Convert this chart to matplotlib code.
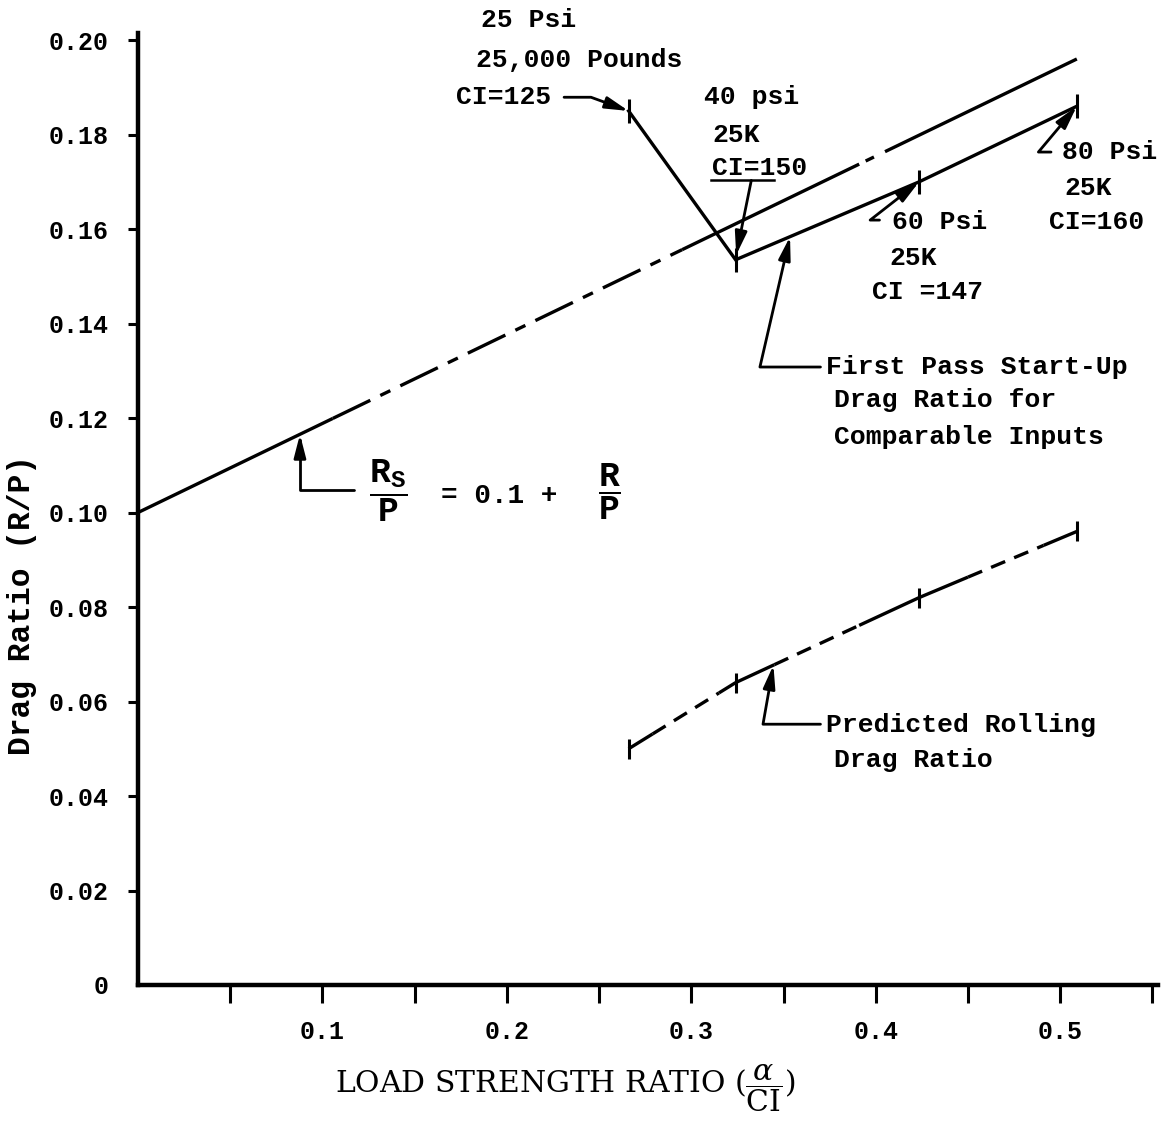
import numpy as np
import matplotlib
matplotlib.use("Agg")
import matplotlib.pyplot as plt

# ---- data -------------------------------------------------------------
# load strength ratio (alpha / CI) of the four test conditions
load_ratio = [0.266, 0.324, 0.4235, 0.509]
# first pass start-up drag ratio measured at those conditions
first_pass_drag = [0.185, 0.1535, 0.170, 0.186]
# predicted rolling drag ratio
rolling_drag = [0.050, 0.064, 0.082, 0.096]
# start-up relation R_S/P = 0.1 + R/P (end points of the straight line)
startup_x = [0.0, 0.509]
startup_y = [0.100, 0.196]

y_ticks = [0.0, 0.02, 0.04, 0.06, 0.08, 0.10, 0.12, 0.14, 0.16, 0.18, 0.20]
y_tick_labels = ["0", "0.02", "0.04", "0.06", "0.08", "0.10",
                 "0.12", "0.14", "0.16", "0.18", "0.20"]
x_ticks = [0.05, 0.10, 0.15, 0.20, 0.25, 0.30, 0.35, 0.40, 0.45, 0.50, 0.55]
x_tick_labels = ["", "0.1", "", "0.2", "", "0.3", "", "0.4", "", "0.5", ""]

# ---- style --------------------------------------------------------------
plt.rcParams["lines.scale_dashes"] = False
plt.rcParams["mathtext.fontset"] = "custom"
plt.rcParams["mathtext.rm"] = "Liberation Mono:bold"
plt.rcParams["mathtext.it"] = "Liberation Mono:bold"
plt.rcParams["mathtext.bf"] = "Liberation Mono:bold"

MONO = "Liberation Mono"
SERIF = "DejaVu Serif"
INK = "black"
LW = 2.4
TXT = 19

W, H = 1166, 1131
fig = plt.figure(figsize=(W / 100, H / 100), dpi=100)
ax = fig.add_axes([138 / W, 1 - 985 / H, 1020 / W, (985 - 33) / H])
ax.set_xlim(0, 0.553)
ax.set_ylim(0, 0.2015)

for s in ("top", "right"):
    ax.spines[s].set_visible(False)
for s in ("left", "bottom"):
    ax.spines[s].set_linewidth(3.2)

ax.set_yticks(y_ticks)
ax.set_yticklabels(y_tick_labels, fontfamily=MONO, fontsize=18,
                   fontweight="bold")
ax.set_xticks(x_ticks)
ax.set_xticklabels(x_tick_labels, fontfamily=MONO, fontsize=18,
                   fontweight="bold")
ax.tick_params(axis="y", direction="out", length=7, width=2.2, pad=14)
ax.tick_params(axis="x", direction="out", length=13, width=2.2, pad=12)
ax.yaxis.get_major_ticks()[0].tick1line.set_visible(False)


def spans(xs, ys, ranges, **kw):
    """Draw pieces of a polyline between the given x ranges."""
    for x0, x1 in ranges:
        sx = np.linspace(x0, x1, 30)
        ax.plot(sx, np.interp(sx, xs, ys), color=INK, lw=LW,
                solid_capstyle="butt", **kw)


# start-up line: solid in parts, dash-dot elsewhere
spans(startup_x, startup_y,
      [(0.0, 0.1056), (0.295, 0.391), (0.3945, 0.399), (0.405, 0.509)])
spans(startup_x, startup_y, [(0.1056, 0.295)], dashes=(30, 8, 8, 8))

# first pass start-up drag ratio
ax.plot(load_ratio, first_pass_drag, color=INK, lw=LW,
        solid_joinstyle="miter")
ax.plot(load_ratio, first_pass_drag, ls="none", marker="|",
        ms=17, mew=2.2, color=INK)

# predicted rolling drag ratio: mixed solid / dashed
spans(load_ratio, rolling_drag,
      [(0.266, 0.279), (0.315, 0.345), (0.391, 0.450), (0.491, 0.509)])
spans(load_ratio, rolling_drag,
      [(0.279, 0.315), (0.345, 0.391), (0.450, 0.491)], dashes=(11, 7))
ax.plot(load_ratio, rolling_drag, ls="none", marker="|",
        ms=15, mew=2.2, color=INK)

# ---- annotations --------------------------------------------------------
AP = dict(arrowstyle="-|>,head_length=0.7,head_width=0.18",
          color=INK, lw=2.0, shrinkA=0, shrinkB=0, mutation_scale=20)


def txt(x, y, s, **kw):
    ax.text(x, y, s, fontfamily=MONO, fontsize=TXT, fontweight="bold",
            ha="left", va="center", color=INK, clip_on=False, **kw)


def arrow(start, end, conn="arc3"):
    ax.annotate("", xy=end, xytext=start,
                arrowprops=dict(AP, connectionstyle=conn),
                annotation_clip=False)


# 25 psi
txt(0.186, 0.2042, "25 Psi")
txt(0.183, 0.1958, "25,000 Pounds")
txt(0.1726, 0.1879, "CI=125")
arrow((0.231, 0.1879), (load_ratio[0], first_pass_drag[0]),
      "angle,angleA=0,angleB=-20,rad=0")

# 40 psi
txt(0.307, 0.1879, "40 psi")
txt(0.3114, 0.1799, "25K")
txt(0.3114, 0.1729, "CI=150")
ax.plot([0.3108, 0.345], [0.1704, 0.1704], color=INK, lw=1.8)
arrow((0.3325, 0.1703), (load_ratio[1] + 0.0003, first_pass_drag[1] + 0.001))

# 60 psi
txt(0.409, 0.1615, "60 Psi")
txt(0.4073, 0.1539, "25K")
txt(0.398, 0.1467, "CI =147")
arrow((0.402, 0.1619), (load_ratio[2], first_pass_drag[2]),
      "angle,angleA=0,angleB=38,rad=0")

# 80 psi
txt(0.501, 0.1763, "80 Psi")
txt(0.502, 0.1687, "25K")
txt(0.494, 0.1615, "CI=160")
arrow((0.495, 0.1763), (load_ratio[3], first_pass_drag[3]),
      "angle,angleA=0,angleB=50,rad=0")

# first pass label
txt(0.373, 0.1308, "First Pass Start-Up")
txt(0.3775, 0.1238, "Drag Ratio for")
txt(0.3775, 0.1160, "Comparable Inputs")
xa = 0.3535
arrow((0.370, 0.1308), (xa, np.interp(xa, load_ratio, first_pass_drag)),
      "angle,angleA=0,angleB=77,rad=0")

# rolling label
txt(0.373, 0.0550, "Predicted Rolling")
txt(0.3775, 0.0476, "Drag Ratio")
xr = 0.3445
arrow((0.370, 0.0552), (xr, np.interp(xr, load_ratio, rolling_drag)),
      "angle,angleA=0,angleB=80,rad=0")

# start-up relation  R_S/P = 0.1 + R/P
ax.text(0.1358, 0.1046, r"$\dfrac{\mathrm{R}_{\mathrm{S}}}{\mathrm{P}}$",
        fontsize=25, ha="center", va="center", color=INK)
ax.text(0.196, 0.1036, "= 0.1 +", fontfamily=MONO, fontsize=20,
        fontweight="bold", ha="center", va="center", color=INK)
ax.text(0.2555, 0.1044, r"$\dfrac{\mathrm{R}}{\mathrm{P}}$",
        fontsize=25, ha="center", va="center", color=INK)
xs0 = 0.0878
arrow((0.117, 0.1048), (xs0, np.interp(xs0, startup_x, startup_y)),
      "angle,angleA=0,angleB=90,rad=0")

# axis titles
fig.text(565 / W, 1 - 1088 / H,
         r"LOAD STRENGTH RATIO ($\dfrac{\alpha}{\mathrm{CI}}$)",
         fontfamily=SERIF, fontsize=21.5, ha="center", va="center",
         math_fontfamily="dejavuserif")
fig.text(22 / W, 1 - 605 / H, "Drag Ratio (R/P)", fontfamily=MONO,
         fontsize=22.5, fontweight="bold", rotation=90,
         ha="center", va="center")

fig.savefig("out.png", dpi=100, facecolor="white")
